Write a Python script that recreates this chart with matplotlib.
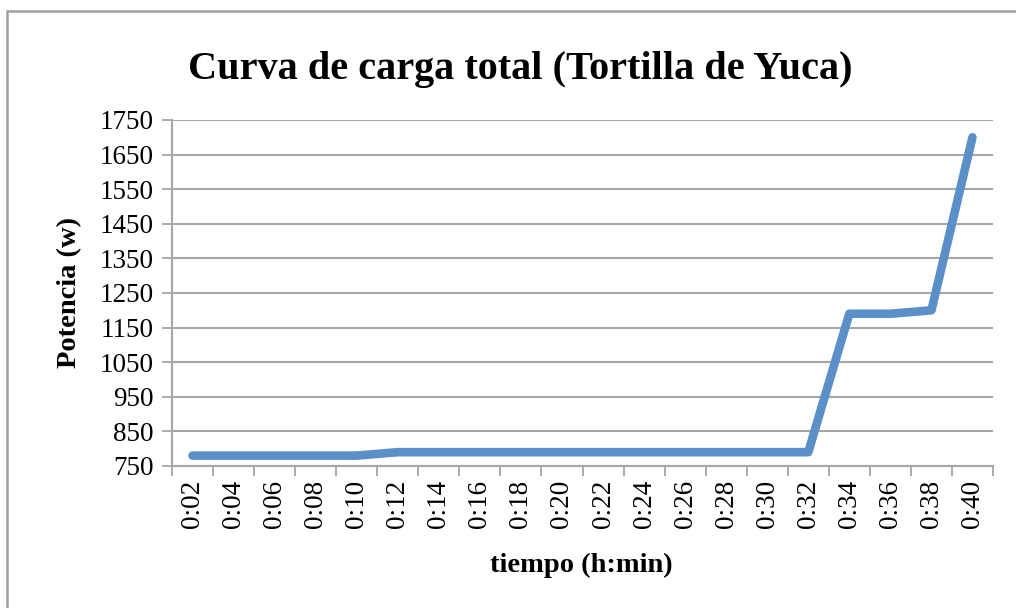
import matplotlib.pyplot as plt
from matplotlib.patches import Rectangle

# data
times = ['0:02', '0:04', '0:06', '0:08', '0:10', '0:12', '0:14', '0:16', '0:18', '0:20',
         '0:22', '0:24', '0:26', '0:28', '0:30', '0:32', '0:34', '0:36', '0:38', '0:40']
potencia = [780, 780, 780, 780, 780, 790, 790, 790, 790, 790,
            790, 790, 790, 790, 790, 790, 1190, 1190, 1200, 1700]
yticks = list(range(750, 1751, 100))

plt.rcParams['font.family'] = ['Liberation Serif', 'DejaVu Serif']
GRID = '#a6a6a6'

fig = plt.figure(figsize=(10.16, 6.08), dpi=100)
ax = fig.add_axes([172/1016, 1 - 466/608, (993-172)/1016, (466-120)/608])

x = list(range(len(times)))
ax.plot(x, potencia, color='#5a8fc8', linewidth=6.2, solid_capstyle='round',
        solid_joinstyle='round', zorder=3)

ax.set_xlim(-0.5, len(times) - 0.5)
ax.set_ylim(750, 1750)
ax.set_yticks(yticks)
ax.set_yticklabels([str(v) for v in yticks], fontsize=19.5)
ax.set_xticks(x)
ax.set_xticklabels(times, rotation=90, fontsize=19.5)
ax.set_xticks([i - 0.5 for i in range(len(times) + 1)], minor=True)
ax.tick_params(axis='x', which='major', length=0, pad=10)
ax.tick_params(axis='x', which='minor', length=7, color=GRID, width=1.3, direction='out')
ax.tick_params(axis='y', length=7, color=GRID, width=1.3, direction='out', pad=6)

ax.grid(axis='y', color=GRID, linewidth=1.5)
ax.set_axisbelow(True)
for s in ['top', 'right']:
    ax.spines[s].set_visible(False)
for s in ['left', 'bottom']:
    ax.spines[s].set_color(GRID)
    ax.spines[s].set_linewidth(1.5)

fig.text(520/1016, 1 - 70/608, 'Curva de carga total (Tortilla de Yuca)',
         ha='center', va='center', fontsize=29, fontweight='bold')
fig.text(581/1016, 1 - 565/608, 'tiempo (h:min)', ha='center', va='center',
         fontsize=20.5, fontweight='bold')
fig.text(70/1016, 1 - 293/608, 'Potencia (w)', ha='center', va='center',
         fontsize=20.5, fontweight='bold', rotation=90)

fig.patches.append(Rectangle((7/1016, -0.1), 1.2, 1 - 11/608 + 0.1,
                             transform=fig.transFigure, fill=False,
                             edgecolor='#a0a0a0', linewidth=1.8))

fig.savefig('out.png', dpi=100)
